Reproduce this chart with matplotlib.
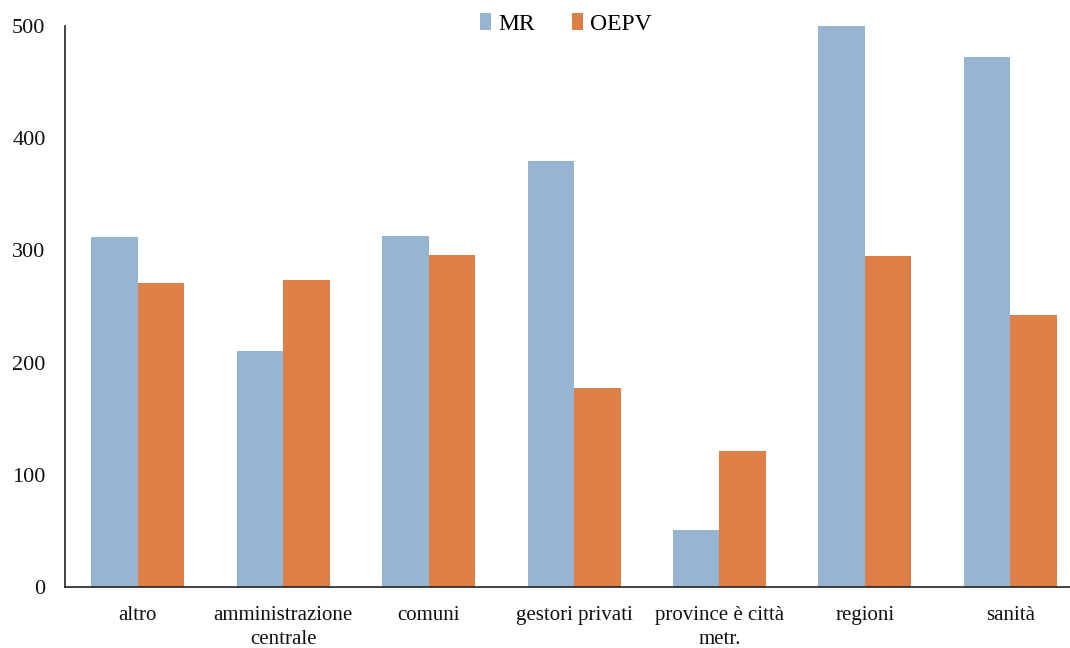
import matplotlib
matplotlib.use("Agg")
import matplotlib.pyplot as plt
import numpy as np

categories = ["altro", "amministrazione\ncentrale", "comuni", "gestori privati",
              "province è città\nmetr.", "regioni", "sanità"]
mr_values = [312, 210, 313, 380, 51, 500, 472]
oepv_values = [271, 274, 296, 177, 121, 295, 242]

plt.rcParams["font.family"] = ["Liberation Serif", "DejaVu Serif"]

fig = plt.figure(figsize=(10.7, 6.48), dpi=100)
ax = fig.add_axes([65 / 1070, 61 / 648, 1005 / 1070, 561 / 648])

x = np.arange(len(categories))
width = 0.32
ax.bar(x - width / 2, mr_values, width, color="#95B5D3", label="MR")
ax.bar(x + width / 2, oepv_values, width, color="#DE7F47", label="OEPV")

ax.set_xlim(-0.5, 6.41)
ax.set_ylim(0, 500)
ax.set_yticks([0, 100, 200, 300, 400, 500])
ax.set_xticks(x)
ax.set_xticklabels(categories, linespacing=1.3)
ax.tick_params(axis="both", length=0, labelsize=15, colors="#111111")
ax.tick_params(axis="x", pad=14)
ax.tick_params(axis="y", pad=14, labelsize=16)

for side in ["top", "right"]:
    ax.spines[side].set_visible(False)
ax.spines["left"].set_color("#222222")
ax.spines["bottom"].set_color("#222222")
ax.spines["left"].set_linewidth(1.2)
ax.spines["bottom"].set_linewidth(1.2)

ax.legend(loc="center", bbox_to_anchor=(566 / 1070, 1 - 24 / 648),
          bbox_transform=fig.transFigure, ncol=2, frameon=False, fontsize=17,
          handlelength=0.45, handleheight=0.7, handletextpad=0.3, columnspacing=1.6)

fig.savefig("out.png", dpi=100)
